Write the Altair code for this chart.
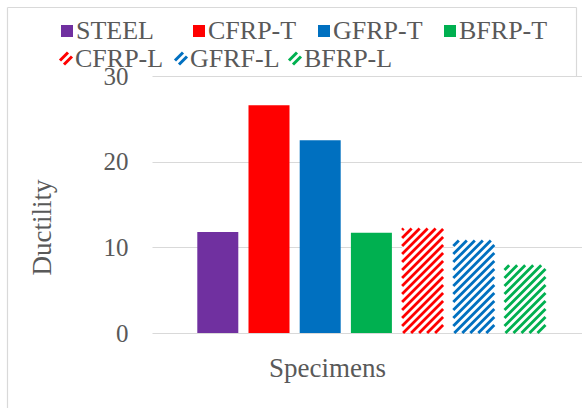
import altair as alt
import pandas as pd

# Ductility of each specimen group (-T and -L wraps drawn solid / hatched)
specimens = ["STEEL", "CFRP-T", "GFRP-T", "BFRP-T", "CFRP-L", "GFRF-L", "BFRP-L"]
ductility = [11.8, 26.6, 22.5, 11.7, 12.2, 10.8, 7.9]
fill_kind = ["solid", "solid", "solid", "solid", "hatch", "hatch", "hatch"]
y_ticks = [0, 10, 20, 30]

palette = ["#7030A0", "#FF0000", "#0070C0", "#00B050", "#FF0000", "#0070C0", "#00B050"]

# ---- layout (pixels) ----
PLOT_LEFT, PLOT_TOP = 152, 76
PLOT_W, PLOT_H = 430, 257
STEP_PX = 51.2          # distance between bar centres
BAR_PX = 41             # bar width
FIRST_CENTER_PX = 65.8  # first bar centre from the plot's left edge
Y_MAX = 30
KX = STEP_PX
KY = PLOT_H / Y_MAX
X_MIN = -FIRST_CENTER_PX / STEP_PX
X_MAX = X_MIN + PLOT_W / STEP_PX
HALF = BAR_PX / 2 / STEP_PX
HATCH_GAP = 8           # vertical distance between hatch stripes
HATCH_W = 2.8

# key layout: row and left edge of each key icon
legend_row = [0, 0, 0, 0, 1, 1, 1]
legend_left = [61, 193, 318, 444, 60, 175, 289]
ROW_Y = [31, 58.5]
ICON = 12
KEY_FONT_SIZE = 26

FONT = "Liberation Serif"
TEXT_GREY = "#595959"
GRID_GREY = "#d9d9d9"
FRAME_GREY = "#d9d9d9"

bars_df = pd.DataFrame({
    "idx": list(range(len(specimens))),
    "specimen": specimens,
    "value": ductility,
    "kind": fill_kind,
})
legend_df = pd.DataFrame({
    "specimen": specimens,
    "kind": fill_kind,
    "row": legend_row,
    "left": legend_left,
})

color_scale = alt.Scale(domain=specimens, range=palette)
x_scale = alt.Scale(domain=[X_MIN, X_MAX], nice=False, zero=False)
y_scale = alt.Scale(domain=[0, Y_MAX], nice=False)

x_axis = alt.Axis(
    title="Specimens", labels=False, ticks=False, domain=False, grid=False,
    titleFont=FONT, titleFontSize=27, titleColor=TEXT_GREY, titleFontWeight="normal",
    titleX=175, titleY=35, titleAlign="center", titleBaseline="middle",
)
y_axis = alt.Axis(
    title="Ductility", values=y_ticks, grid=True, gridColor=GRID_GREY, gridWidth=1,
    domain=False, ticks=False, labelPadding=24,
    labelFont=FONT, labelFontSize=25, labelColor=TEXT_GREY,
    titleFont=FONT, titleFontSize=27, titleColor=TEXT_GREY, titleFontWeight="normal",
    titleAngle=270, titleX=-110, titleY=151, titleAlign="center", titleBaseline="middle",
)


def xq(field):
    return alt.X(field, type="quantitative", scale=x_scale, axis=x_axis)


def yq(field):
    return alt.Y(field, type="quantitative", scale=y_scale, axis=y_axis)


base = alt.Chart(bars_df).transform_calculate(
    x0=f"datum.idx - {HALF}",
    x1=f"datum.idx + {HALF}",
    y0="0",
)

solid_bars = base.transform_filter("datum.kind == 'solid'").mark_rect().encode(
    x=xq("x0"), x2="x1:Q", y=yq("value"), y2="y0:Q",
    color=alt.Color("specimen:N", scale=color_scale, legend=None),
)

# white ground under the hatched bars
hatch_ground = base.transform_filter("datum.kind == 'hatch'").mark_rect(color="white").encode(
    x=xq("x0"), x2="x1:Q", y=yq("value"), y2="y0:Q",
)

# diagonal stripes clipped to each hatched bar
stripes = (
    alt.Chart(bars_df)
    .transform_filter("datum.kind == 'hatch'")
    .transform_calculate(hpx=f"datum.value * {KY}")
    .transform_calculate(k=f"sequence(0, ceil((datum.hpx + {BAR_PX}) / {HATCH_GAP}) + 1)")
    .transform_flatten(["k"])
    .transform_calculate(c=f"datum.k * {HATCH_GAP} - {BAR_PX}")
    .transform_calculate(u0="max(0, -datum.c)", u1=f"min({BAR_PX}, datum.hpx - datum.c)")
    .transform_filter("datum.u1 > datum.u0")
    .transform_calculate(
        xa=f"datum.idx - {HALF} + datum.u0 / {KX}",
        xb=f"datum.idx - {HALF} + datum.u1 / {KX}",
        ya=f"(datum.u0 + datum.c) / {KY}",
        yb=f"(datum.u1 + datum.c) / {KY}",
    )
    .mark_rule(strokeWidth=HATCH_W)
    .encode(
        x=xq("xa"), x2="xb:Q", y=yq("ya"), y2="yb:Q",
        color=alt.Color("specimen:N", scale=color_scale, legend=None),
    )
)

# ---- key ----
key_base = alt.Chart(legend_df).transform_calculate(
    cy=f"(datum.row == 0 ? {ROW_Y[0]} : {ROW_Y[1]}) - {PLOT_TOP}",
    cx=f"datum.left + {ICON / 2} - {PLOT_LEFT}",
    tx=f"datum.left + {ICON + 3} - {PLOT_LEFT}",
)

key_squares = key_base.transform_filter("datum.kind == 'solid'").mark_square(
    size=ICON * ICON, opacity=1
).encode(
    x=alt.X("cx:Q", scale=None, axis=None),
    y=alt.Y("cy:Q", scale=None, axis=None),
    color=alt.Color("specimen:N", scale=color_scale, legend=None),
)

key_hatch = (
    key_base.transform_filter("datum.kind == 'hatch'")
    .transform_calculate(k="sequence(0, 4)")
    .transform_flatten(["k"])
    .transform_calculate(c=f"datum.k * {HATCH_GAP} - {ICON}")
    .transform_calculate(u0="max(0, -datum.c)", u1=f"min({ICON}, {ICON} - datum.c)")
    .transform_filter("datum.u1 > datum.u0")
    .transform_calculate(
        xa=f"datum.cx - {ICON / 2} + datum.u0",
        xb=f"datum.cx - {ICON / 2} + datum.u1",
        ya=f"datum.cy + {ICON / 2} - (datum.u0 + datum.c)",
        yb=f"datum.cy + {ICON / 2} - (datum.u1 + datum.c)",
    )
    .mark_rule(strokeWidth=3)
    .encode(
        x=alt.X("xa:Q", scale=None, axis=None), x2="xb:Q",
        y=alt.Y("ya:Q", scale=None, axis=None), y2="yb:Q",
        color=alt.Color("specimen:N", scale=color_scale, legend=None),
    )
)

key_text = key_base.mark_text(
    align="left", baseline="middle", font=FONT, fontSize=KEY_FONT_SIZE, color=TEXT_GREY
).encode(
    x=alt.X("tx:Q", scale=None, axis=None),
    y=alt.Y("cy:Q", scale=None, axis=None),
    text="specimen:N",
)

# ---- chart frame ----
frame_df = pd.DataFrame({"f": [0]})
FL, FT, FR, FB = 7.5 - PLOT_LEFT, 7.5 - PLOT_TOP, 576.5 - PLOT_LEFT, 408 - PLOT_TOP
frame_left = alt.Chart(frame_df).mark_rule(color=FRAME_GREY, strokeWidth=1.2).encode(
    x=alt.value(FL), y=alt.value(FT), y2=alt.value(FB))
frame_top = alt.Chart(frame_df).mark_rule(color=FRAME_GREY, strokeWidth=1.2).encode(
    x=alt.value(FL), x2=alt.value(FR), y=alt.value(FT))
frame_right = alt.Chart(frame_df).mark_rule(color=FRAME_GREY, strokeWidth=1.2).encode(
    x=alt.value(FR), y=alt.value(FT), y2=alt.value(0))

chart = alt.layer(
    frame_left, frame_top, frame_right,
    solid_bars, hatch_ground, stripes,
    key_squares, key_hatch, key_text,
).properties(
    width=PLOT_W,
    height=PLOT_H,
    autosize=alt.AutoSizeParams(type="none"),
    padding={"left": PLOT_LEFT, "top": PLOT_TOP, "right": 0, "bottom": 408 - PLOT_TOP - PLOT_H},
    background="white",
).configure_view(stroke=None)

chart.save("out.html", embed_options={"renderer": "svg", "actions": False})
